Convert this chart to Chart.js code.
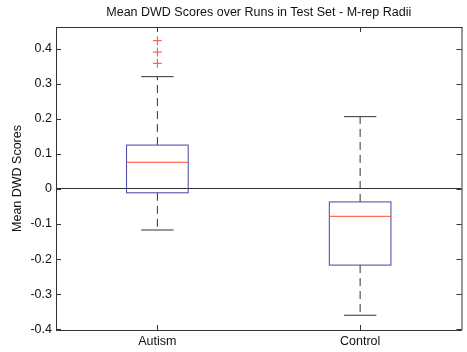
<!DOCTYPE html>
<html lang="en">
<head>
    <meta charset="UTF-8">
    <title>Mean DWD Scores over Runs in Test Set - M-rep Radii</title>
    <script src="https://cdn.jsdelivr.net/npm/chart.js"></script>
    <style>
        body {
            margin: 0;
            background: white;
        }
        canvas {
            display: block;
        }
    </style>
</head>
<body>
    <canvas id="boxChart" width="467" height="352"></canvas>

    <script>
        // box plot statistics
        const categories = ["Autism", "Control"];
        const q1 = [-0.011, -0.217];
        const median = [0.076, -0.078];
        const q3 = [0.125, -0.037];
        const whiskerLow = [-0.117, -0.360];
        const whiskerHigh = [0.320, 0.206];
        const outliers = [[0.4225, 0.390, 0.358], []];
        const yTicks = [-0.4, -0.3, -0.2, -0.1, 0, 0.1, 0.2, 0.3, 0.4];

        const axisColor = "#333";
        const textColor = "#111";
        const boxColor = "#4444a8";
        const medianColor = "#ff4a2a";
        const boxHalf = 0.152;   // in x units
        const capHalf = 0.08;

        const outlierPoints = [];
        outliers.forEach((list, i) => {
            list.forEach(v => outlierPoints.push({ x: i + 1, y: v }));
        });

        const boxPlugin = {
            id: "boxes",
            afterDatasetsDraw(chart) {
                const { ctx, scales: { x, y } } = chart;
                ctx.save();
                ctx.lineWidth = 1;
                categories.forEach((c, i) => {
                    const cx = x.getPixelForValue(i + 1);
                    const bl = x.getPixelForValue(i + 1 - boxHalf);
                    const br = x.getPixelForValue(i + 1 + boxHalf);
                    const cl = x.getPixelForValue(i + 1 - capHalf);
                    const cr = x.getPixelForValue(i + 1 + capHalf);

                    // whiskers (dashed)
                    ctx.strokeStyle = axisColor;
                    ctx.setLineDash([8, 5]);
                    ctx.beginPath();
                    ctx.moveTo(cx, y.getPixelForValue(q3[i]));
                    ctx.lineTo(cx, y.getPixelForValue(whiskerHigh[i]));
                    ctx.moveTo(cx, y.getPixelForValue(q1[i]));
                    ctx.lineTo(cx, y.getPixelForValue(whiskerLow[i]));
                    ctx.stroke();
                    ctx.setLineDash([]);

                    // caps
                    ctx.beginPath();
                    ctx.moveTo(cl, y.getPixelForValue(whiskerHigh[i]));
                    ctx.lineTo(cr, y.getPixelForValue(whiskerHigh[i]));
                    ctx.moveTo(cl, y.getPixelForValue(whiskerLow[i]));
                    ctx.lineTo(cr, y.getPixelForValue(whiskerLow[i]));
                    ctx.stroke();

                    // box
                    const top = y.getPixelForValue(q3[i]);
                    const bottom = y.getPixelForValue(q1[i]);
                    ctx.strokeStyle = boxColor;
                    ctx.strokeRect(bl, top, br - bl, bottom - top);

                    // median
                    ctx.strokeStyle = medianColor;
                    ctx.beginPath();
                    ctx.moveTo(bl, y.getPixelForValue(median[i]));
                    ctx.lineTo(br, y.getPixelForValue(median[i]));
                    ctx.stroke();
                });
                ctx.restore();
            }
        };

        // top/right frame and inward ticks like matlab
        const framePlugin = {
            id: "frame",
            afterDraw(chart) {
                const { ctx, chartArea: a, scales: { x, y } } = chart;
                ctx.save();
                ctx.strokeStyle = axisColor;
                ctx.lineWidth = 1;
                ctx.beginPath();
                ctx.moveTo(a.left, a.top + 0.5);
                ctx.lineTo(a.right + 1, a.top + 0.5);
                ctx.moveTo(a.right + 0.5, a.top);
                ctx.lineTo(a.right + 0.5, a.bottom);
                yTicks.forEach(v => {
                    const py = Math.round(y.getPixelForValue(v)) + 0.5;
                    ctx.moveTo(a.left, py);
                    ctx.lineTo(a.left + 5, py);
                    ctx.moveTo(a.right - 5, py);
                    ctx.lineTo(a.right, py);
                });
                categories.forEach((c, i) => {
                    const px = Math.round(x.getPixelForValue(i + 1)) + 0.5;
                    ctx.moveTo(px, a.top);
                    ctx.lineTo(px, a.top + 5);
                    ctx.moveTo(px, a.bottom);
                    ctx.lineTo(px, a.bottom - 5);
                });
                ctx.stroke();
                ctx.restore();
            }
        };

        const font = { family: "Arial, 'Liberation Sans', sans-serif", size: 12.5 };

        new Chart(document.getElementById("boxChart"), {
            type: "scatter",
            data: {
                datasets: [{
                    label: "Outliers",
                    data: outlierPoints,
                    pointStyle: "cross",
                    radius: 4.5,
                    borderColor: medianColor,
                    borderWidth: 1
                }]
            },
            options: {
                responsive: false,
                animation: false,
                layout: { padding: 0 },
                plugins: {
                    legend: { display: false },
                    tooltip: { enabled: false },
                    title: {
                        display: true,
                        text: "Mean DWD Scores over Runs in Test Set - M-rep Radii",
                        fullSize: false,
                        color: textColor,
                        font: { ...font, weight: "normal" },
                        padding: { top: 5.5, bottom: 6.5 }
                    }
                },
                scales: {
                    x: {
                        type: "linear",
                        min: 0.5,
                        max: 2.5,
                        afterBuildTicks: s => { s.ticks = categories.map((c, i) => ({ value: i + 1 })); },
                        afterFit: s => { s.height = 22; },
                        ticks: {
                            color: textColor,
                            font: font,
                            padding: 4,
                            callback: v => categories[v - 1]
                        },
                        grid: { display: false, drawTicks: false },
                        border: { display: true, color: axisColor }
                    },
                    y: {
                        min: -0.402,
                        max: 0.4615,
                        afterBuildTicks: s => { s.ticks = yTicks.map(v => ({ value: v })); },
                        afterFit: s => { s.width = 56; },
                        ticks: {
                            color: textColor,
                            font: font,
                            padding: 4,
                            callback: v => String(v)
                        },
                        grid: {
                            drawTicks: false,
                            color: c => (c.tick && c.tick.value === 0) ? axisColor : "transparent"
                        },
                        border: { display: true, color: axisColor },
                        title: {
                            display: true,
                            text: "Mean DWD Scores",
                            color: textColor,
                            font: font,
                            padding: { top: 10, bottom: 0 }
                        }
                    }
                }
            },
            plugins: [boxPlugin, framePlugin]
        });
    </script>
</body>
</html>
